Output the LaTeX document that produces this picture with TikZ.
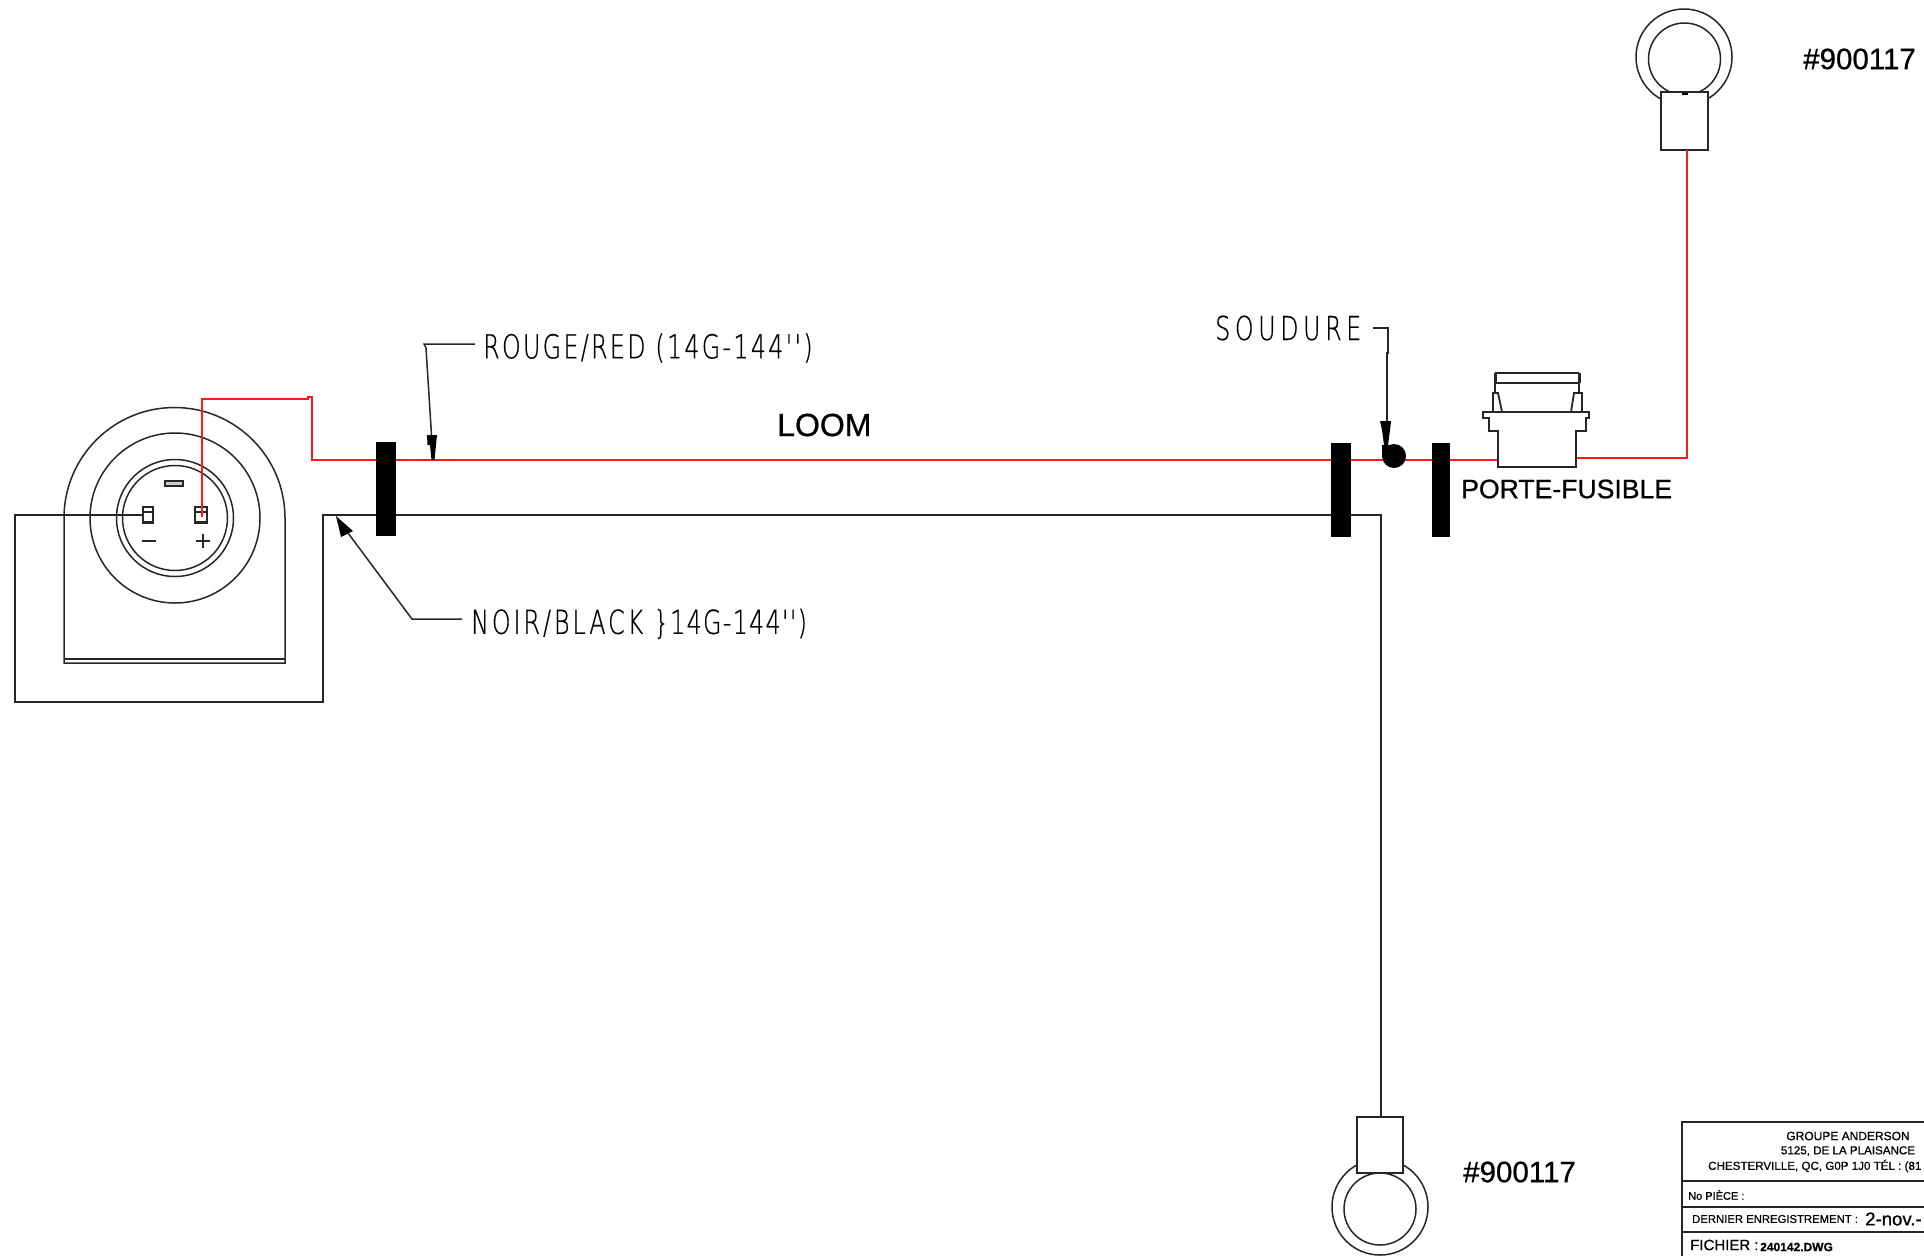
\documentclass[tikz,border=0pt]{standalone}
\usepackage{fontspec}
\setmainfont[FakeBold=0.8]{Liberation Sans}
\newfontfamily\cadfont[UprightFont=* ExtraLight,FakeStretch=0.72,LetterSpace=7,FakeBold=0.5]{DejaVu Sans}
\tikzset{
  wire/.style={line width=1.8pt, black!85},
  redwire/.style={line width=1.7pt, red!90!white},
  thin line/.style={line width=1.5pt, black!85},
  bar/.style={fill=black, inner sep=0pt, minimum width=20pt, minimum height=94pt},
  lug/.style={draw=black!85, line width=1.7pt, fill=white, inner sep=0pt, minimum width=47pt, minimum height=58pt},
  cadtext/.style={font=\cadfont\fontsize{33}{36}\selectfont, anchor=west, inner sep=0pt},
  plain text/.style={font=\fontsize{29.5}{32}\selectfont, anchor=west, inner sep=0pt},
  block text/.style={font=\fontsize{11.6}{14}\selectfont, inner sep=0pt}
}
\begin{document}
\begin{tikzpicture}[x=1pt, y=-1pt]
  \useasboundingbox (0, 0) rectangle (1924, 1256);

  % connector
  \draw [thin line] (64, 663) -- (64, 518) arc (180:360:110.5) -- (285, 663) -- cycle;
  \draw [thin line] (64, 659) -- (285, 659);
  \draw [thin line] (175, 518) circle (85);
  \draw [thin line] (175, 518) circle (58.5);
  \draw [thin line] (175, 518) circle (52.5);
  \draw [thin line, fill=black!20] (165, 481) rectangle (183, 486);
  \draw [wire] (143, 507) rectangle (153, 523);
  \draw [wire] (143, 512) -- (153, 512);
  \draw [wire] (195, 507) rectangle (207, 523);
  \draw [wire] (195, 512) -- (207, 512);
  \draw [wire] (143, 522) -- (153, 522);
  \draw [wire] (195, 522) -- (207, 522);
  \draw [thin line] (142, 541) -- (156, 541);
  \draw [thin line] (196, 541) -- (210, 541);
  \draw [thin line] (203, 534) -- (203, 548);

  % lugs
  \draw [thin line] (1684, 57) circle (48);
  \draw [thin line] (1684.5, 59) circle (36);
  \node [lug] (lugtop) at (1684.5, 121) {};
  \fill (1682, 93) rectangle (1688, 95);
  \node [plain text] (parttop) at (1803, 59) {\#900117};
  \draw [thin line] (1380, 1207) circle (48);
  \draw [thin line] (1380, 1209) circle (36);
  \node [lug, minimum width=46pt, minimum height=56pt] (lugbottom) at (1380, 1145) {};
  \node [plain text] (partbottom) at (1463, 1172) {\#900117};

  % wires
  \coordinate (redstart) at (202, 517);
  \coordinate (blackstart) at (143, 515);
  \coordinate (fuseleft) at (1498, 460);
  \coordinate (fuseright) at (1576, 458);
  \coordinate (blackcorner) at (1381, 515);

  \draw [wire] (blackstart) -- (15, 515) -- (15, 702) -- (323, 702) -- (323, 515) -- (blackcorner) -- (1381, 1117);
  \draw [redwire] (redstart) -- (202, 399) -- (308, 399) -- (308, 397) -- (312, 397) -- (312, 460) -- (fuseleft);
  \draw [redwire] (fuseright) -- (1687, 458) -- (1687, 150);

  % bars
  \node [bar] (bara) at (386, 489) {};
  \node [bar] (barb) at (1341, 489.5) {};
  \node [bar, minimum width=18pt] (barc) at (1441, 489.5) {};

  % fuse holder
  \draw [wire, fill=white] (1498, 467) -- (1498, 431) -- (1489, 431) -- (1489, 418) -- (1483, 418) -- (1483, 412)
    -- (1589, 412) -- (1589, 418) -- (1586, 418) -- (1586, 431) -- (1576, 431) -- (1576, 467) -- cycle;
  \draw [wire] (1495, 373) -- (1579, 373);
  \draw [wire, line width=2.4pt] (1495, 383) -- (1579, 383);
  \draw [wire, line width=3pt] (1495, 373) -- (1495, 383);
  \draw [wire, line width=3pt] (1579, 373) -- (1579, 383);
  \draw [wire] (1495, 383) -- (1495, 393) -- (1493, 393) -- (1493, 412);
  \draw [wire] (1495, 393) -- (1498, 393) -- (1502, 412);
  \draw [wire] (1579, 383) -- (1579, 393) -- (1582, 393) -- (1582, 412);
  \draw [wire] (1579, 393) -- (1574, 393) -- (1571, 412);
  \node [plain text, font=\fontsize{26.6}{30}\selectfont] (fuselabel) at (1461, 489) {PORTE-FUSIBLE};

  % labels and leaders
  \node [plain text, font=\fontsize{32}{34}\selectfont] (loom) at (777, 425) {LOOM};
  \node [cadtext] (redlabel) at (483, 348) {ROUGE/RED {\addfontfeature{LetterSpace=7}(14G-144'')}};
  \node [cadtext] (blacklabel) at (471, 624) {\addfontfeature{LetterSpace=9}NOIR/BLACK {\addfontfeature{LetterSpace=4}\}14G-144'')}};
  \node [cadtext] (solderlabel) at (1215, 328) {\addfontfeature{LetterSpace=14}SOUDURE};
  \coordinate (redtip) at (433, 460);
  \coordinate (blacktip) at (336, 516);

  \draw [thin line] (redlabel.west) ++(-8, -4) -- (424, 344) -- (426, 348) -- (431.5, 435);
  \fill (427, 435) -- (437, 435) -- (436, 445) -- (434.5, 460) -- (redtip) -- (431.5, 460) -- (430, 445) -- (427.5, 445) -- cycle;
  \draw [thin line] (blacklabel.west) ++(-9, -5) -- (412, 619) -- (348, 533);
  \fill (blacktip) -- (353, 531) -- (341, 537) -- cycle;
  \draw [thin line] (solderlabel.east) ++(11, 0) -- (1388, 328) -- (1388, 353) -- (1387, 353) -- (1387, 421);
  \fill (1380, 421) -- (1391, 421) -- (1390, 430) -- (1388, 445) -- (1384, 445) -- (1382, 430) -- cycle;
  \fill (1394, 456) circle (12);
  \fill (1382, 445) rectangle (1394, 456);

  % title block
  \draw [wire] (1924, 1122) -- (1682, 1122) -- (1682, 1256);
  \draw [wire] (1682, 1181) -- (1924, 1181);
  \draw [wire] (1682, 1207) -- (1924, 1207);
  \draw [wire] (1682, 1232) -- (1924, 1232);
  \node [block text, font=\fontsize{12}{14}\selectfont] (company) at (1848, 1136) {GROUPE ANDERSON};
  \node [block text] (street) at (1848, 1151) {5125, DE LA PLAISANCE};
  \node [block text, anchor=west] (city) at (1708, 1166) {CHESTERVILLE, QC, G0P 1J0 TÉL : (81};
  \node [block text, anchor=west, font=\fontsize{11}{13}\selectfont] (partno) at (1688, 1195) {No PIÈCE :};
  \node [block text, anchor=west, font=\fontsize{11.3}{13}\selectfont] (lastsave) at (1692, 1219) {DERNIER ENREGISTREMENT :};
  \node [block text, anchor=west, font=\fontsize{18.6}{20}\selectfont] (savedate) at (1865, 1219) {2-nov.-};
  \node [block text, anchor=west, font=\fontsize{15}{17}\selectfont] (filelabel) at (1690, 1245) {FICHIER :};
  \node [block text, anchor=west, font=\bfseries\fontsize{12}{14}\selectfont] (filename) at (1760, 1247) {240142.DWG};
\end{tikzpicture}
\end{document}
